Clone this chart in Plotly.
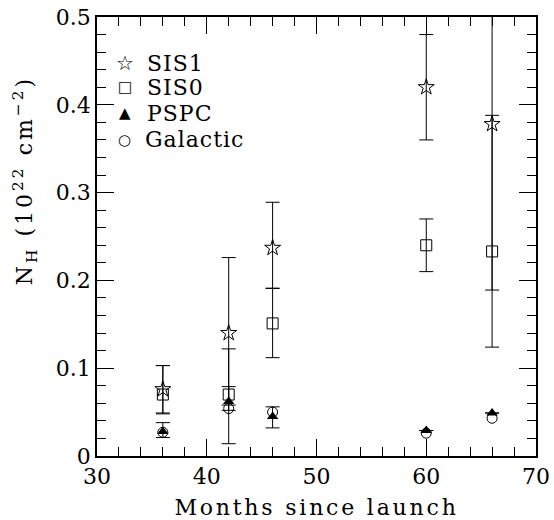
import plotly.graph_objects as go

months = [36, 42, 46, 60, 66]

sis1 = [0.076, 0.140, 0.237, 0.420, 0.378]
sis1_low = [0.049, 0.014, 0.191, 0.360, 0.124]
sis1_high = [0.103, 0.226, 0.289, 0.480, 0.560]

sis0 = [0.070, 0.070, 0.151, 0.240, 0.233]
sis0_low = [0.048, 0.058, 0.112, 0.210, 0.189]
sis0_high = [0.103, 0.122, 0.191, 0.270, 0.388]

pspc = [0.028, 0.062, 0.045, 0.029, 0.049]
pspc_low = [0.021, 0.052, 0.032, None, None]
pspc_high = [0.038, 0.079, 0.056, None, None]

galactic = [0.027, 0.054, 0.050, 0.026, 0.043]

series_names = ["SIS1", "SIS0", "PSPC", "Galactic"]
legend_glyphs = ["☆", "□", "▲", "○"]

FONT = "DejaVu Serif"


def err(vals, lo, hi):
    plus = [(h - v) if h is not None else float("nan") for v, h in zip(vals, hi)]
    minus = [(v - l) if l is not None else float("nan") for v, l in zip(vals, lo)]
    return dict(type="data", symmetric=False, array=plus, arrayminus=minus,
                color="black", thickness=1, width=7)


fig = go.Figure()
fig.add_trace(go.Scatter(x=months, y=sis1, mode="markers", name=series_names[0],
                         marker=dict(symbol="star-open", size=12, color="black", line=dict(width=1)),
                         error_y=err(sis1, sis1_low, sis1_high)))
fig.add_trace(go.Scatter(x=months, y=sis0, mode="markers", name=series_names[1],
                         marker=dict(symbol="square-open", size=11, color="black", line=dict(width=1)),
                         error_y=err(sis0, sis0_low, sis0_high)))
fig.add_trace(go.Scatter(x=months, y=pspc, mode="markers", name=series_names[2],
                         marker=dict(symbol="triangle-up", size=10, color="black", line=dict(width=0)),
                         error_y=err(pspc, pspc_low, pspc_high)))
fig.add_trace(go.Scatter(x=months, y=galactic, mode="markers", name=series_names[3],
                         marker=dict(symbol="circle-open", size=10, color="black", line=dict(width=1))))

axis_common = dict(showgrid=False, zeroline=False, showline=True, linecolor="black", linewidth=1.6,
                   mirror="ticks", ticks="inside", ticklen=17, tickwidth=1, tickcolor="black",
                   automargin=False,
                   tickfont=dict(family=FONT, size=22, color="black"))

fig.update_xaxes(range=[30, 70], dtick=10, tick0=30,
                 minor=dict(ticks="inside", ticklen=9, dtick=2, tickcolor="black", tickwidth=1),
                 title=dict(text="Months since launch", font=dict(family=FONT, size=22, color="black"), standoff=24),
                 **axis_common)
fig.update_yaxes(range=[0, 0.5], dtick=0.1, tick0=0,
                 minor=dict(ticks="inside", ticklen=9, dtick=0.02, tickcolor="black", tickwidth=1),
                 tickformat="~g",
                 **axis_common)

# y-axis title (annotation index 0)
fig.add_annotation(text="N<sub>H</sub> (10<sup>22</sup> cm<sup>−2</sup>)", textangle=-90,
                   xref="paper", yref="paper", x=-0.164, y=0.626, xanchor="center", yanchor="middle",
                   showarrow=False, font=dict(family=FONT, size=22, color="black"))

# legend (symbols + labels) as text
row_y = [0.895, 0.840, 0.781, 0.720]
for name, glyph, yy in zip(series_names, legend_glyphs, row_y):
    fig.add_annotation(text=glyph, xref="paper", yref="paper", x=0.063, y=yy,
                       xanchor="center", yanchor="middle", showarrow=False,
                       font=dict(family="DejaVu Sans", size=20 if glyph == "☆" else 15, color="black"))
    fig.add_annotation(text=name, xref="paper", yref="paper", x=0.114, y=yy,
                       xanchor="left", yanchor="middle", showarrow=False,
                       font=dict(family=FONT, size=22, color="black"))

fig.update_layout(width=554, height=520, margin=dict(l=97, r=18, t=17, b=64),
                  paper_bgcolor="white", plot_bgcolor="white",
                  font=dict(family=FONT, color="black"),
                  showlegend=False)

post = """
document.body.style.margin = '0';
var gd = document.getElementById('{plot_id}');
function spread(){
  gd.querySelectorAll('.xtitle').forEach(function(e){ e.style.letterSpacing='2.8px'; });
  gd.querySelectorAll('.annotation[data-index="0"] .annotation-text').forEach(function(e){ e.style.letterSpacing='3px'; });
  [2,4,6,8].forEach(function(i){
    gd.querySelectorAll('.annotation[data-index="' + i + '"] .annotation-text').forEach(function(e){ e.style.letterSpacing='1px'; });
  });
}
spread();
gd.on('plotly_afterplot', spread);
"""

fig.write_html("out.html", post_script=post, config={"displayModeBar": False})
